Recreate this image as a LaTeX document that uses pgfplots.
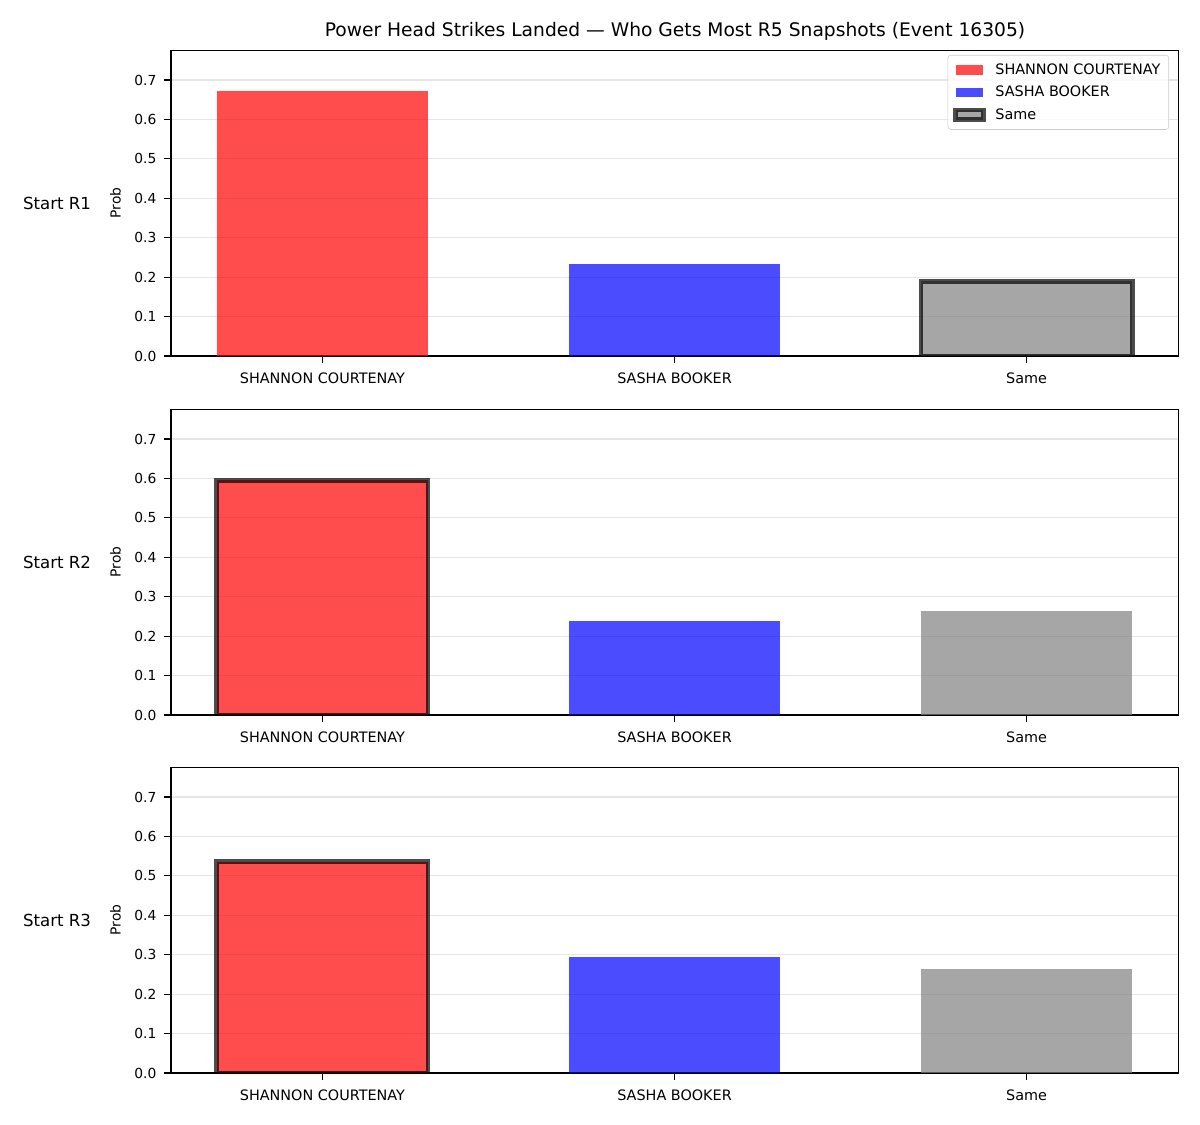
\documentclass[border=0pt]{standalone}
\usepackage{pgfplots}
\pgfplotsset{compat=1.18}
\usepackage{fontspec}
\setmainfont{DejaVu Sans}
\definecolor{mplgray}{RGB}{128,128,128}
\definecolor{gridc}{RGB}{230,230,230}
\newcommand{\px}{0.7227pt}
\pgfplotsset{
  panel/.style={
    scale only axis,
    width=727.8pt, height=221.1pt,
    xmin=-0.43, xmax=2.43, ymin=0, ymax=0.776,
    xtick={0,1,2},
    xticklabels={SHANNON COURTENAY, SASHA BOOKER, Same},
    ytick={0,0.1,0.2,0.3,0.4,0.5,0.6,0.7},
    yticklabel style={font=\fontsize{10}{12}\selectfont, xshift=-2pt,
      /pgf/number format/fixed, /pgf/number format/fixed zerofill,
      /pgf/number format/precision=1, /pgf/number format/assume math mode=true},
    xticklabel style={font=\fontsize{10.4}{12}\selectfont, yshift=-3.5pt},
    ymajorgrids, grid style={gridc, line width=0.8pt},
    tick align=outside, major tick length=5pt,
    tick style={black, line width=0.8pt},
    axis line style={line width=0.8pt},
    xtick pos=bottom, ytick pos=left,
    ylabel={Prob},
    ylabel style={font=\fontsize{10}{12}\selectfont, at={(ticklabel cs:0.5,3pt)}},
    legend style={at={(0.991,0.984)}, anchor=north east,
      font=\fontsize{10.4}{12}\selectfont, draw=black!20, rounded corners=2pt,
      fill=white, fill opacity=0.8, text opacity=1, draw opacity=1,
      row sep=3pt, column sep=5pt, inner sep=4pt},
    legend cell align=left,
  },
  bar/.style={ybar, bar width=0.6, bar shift=0pt, fill opacity=0.7, draw=none,
    legend image code/.code={\fill[##1, draw=none, sharp corners] (0pt,-3.5pt) rectangle (20pt,3.5pt);}},
  hl/.style={draw=black, draw opacity=0.7, line width=3.3pt,
    legend image code/.code={\draw[##1, sharp corners] (0pt,-3.5pt) rectangle (20pt,3.5pt);}},
}
\begin{document}
\begin{tikzpicture}
\path[use as bounding box] (0,0) rectangle (1200*\px,-1125*\px);
\node[font=\fontsize{13.5}{16}\selectfont] at (675*\px,-31*\px) {Power Head Strikes Landed — Who Gets Most R5 Snapshots (Event 16305)};
\node[font=\fontsize{12}{14}\selectfont] at (57*\px,-203*\px) {Start R1};
\node[font=\fontsize{12}{14}\selectfont] at (57*\px,-562*\px) {Start R2};
\node[font=\fontsize{12}{14}\selectfont] at (57*\px,-920*\px) {Start R3};

\begin{axis}[panel, at={(171*\px,-356*\px)}, anchor=south west]
\addplot[bar, fill=red] coordinates {(0,0.672)};
\addlegendentry{SHANNON COURTENAY}
\addplot[bar, fill=blue] coordinates {(1,0.233)};
\addlegendentry{SASHA BOOKER}
\addplot[bar, fill=mplgray, hl] coordinates {(2,0.189)};
\addlegendentry{Same}
\end{axis}

\begin{axis}[panel, at={(171*\px,-715*\px)}, anchor=south west]
\addplot[bar, fill=red, hl] coordinates {(0,0.595)};
\addplot[bar, fill=blue] coordinates {(1,0.2375)};
\addplot[bar, fill=mplgray] coordinates {(2,0.263)};
\end{axis}

\begin{axis}[panel, at={(171*\px,-1073*\px)}, anchor=south west]
\addplot[bar, fill=red, hl] coordinates {(0,0.536)};
\addplot[bar, fill=blue] coordinates {(1,0.293)};
\addplot[bar, fill=mplgray] coordinates {(2,0.265)};
\end{axis}
\end{tikzpicture}
\end{document}
